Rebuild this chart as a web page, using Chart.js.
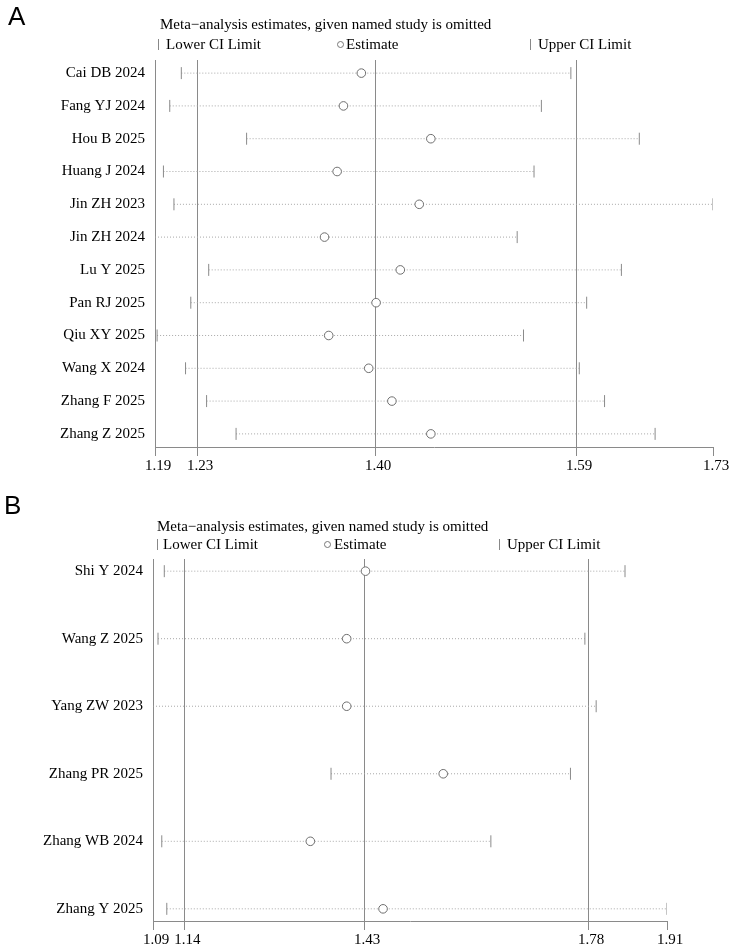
<!DOCTYPE html>
<html>
<head>
<meta charset="utf-8">
<script src="https://cdn.jsdelivr.net/npm/chart.js@4.4.1/dist/chart.umd.min.js"></script>
<style>
  body { margin:0; background:#fff; }
  #wrap { position:relative; width:730px; height:944px; overflow:hidden; }
  .box { position:absolute; left:0; width:730px; }
  .letter { position:absolute; font-family:"Liberation Sans", Arial, sans-serif; font-size:26px; line-height:1; color:#000; }
  .txt { position:absolute; font-family:"Liberation Serif", "Times New Roman", serif; font-size:15px; line-height:1; color:#000; white-space:nowrap; }
  .bar { position:absolute; width:1px; height:11px; background:#888; }
  .circ { position:absolute; width:7px; height:7px; border:1px solid #777; border-radius:50%; box-sizing:border-box; }
</style>
</head>
<body>
<div id="wrap">
  <div class="box" style="top:0;height:480px"><canvas id="chartA"></canvas></div>
  <div class="box" style="top:480px;height:464px"><canvas id="chartB"></canvas></div>

  <div class="letter" style="left:8px;top:3px">A</div>
  <div class="txt" style="left:160px;top:17px">Meta&minus;analysis estimates, given named study is omitted</div>
  <div class="bar" style="left:158px;top:39px"></div>
  <div class="txt" style="left:166px;top:37px">Lower CI Limit</div>
  <div class="circ" style="left:337px;top:41px"></div>
  <div class="txt" style="left:346px;top:37px">Estimate</div>
  <div class="bar" style="left:530px;top:39px"></div>
  <div class="txt" style="left:538px;top:37px">Upper CI Limit</div>

  <div class="letter" style="left:4px;top:492px">B</div>
  <div class="txt" style="left:157px;top:519px">Meta&minus;analysis estimates, given named study is omitted</div>
  <div class="bar" style="left:157px;top:539px"></div>
  <div class="txt" style="left:163px;top:537px">Lower CI Limit</div>
  <div class="circ" style="left:324px;top:541px"></div>
  <div class="txt" style="left:334px;top:537px">Estimate</div>
  <div class="bar" style="left:499px;top:539px"></div>
  <div class="txt" style="left:507px;top:537px">Upper CI Limit</div>
</div>

<script>
// Panel A
const studiesA = ['Cai DB 2024','Fang YJ 2024','Hou B 2025','Huang J 2024','Jin ZH 2023','Jin ZH 2024',
                  'Lu Y 2025','Pan RJ 2025','Qiu XY 2025','Wang X 2024','Zhang F 2025','Zhang Z 2025'];
const estA   = [1.386, 1.369, 1.452, 1.363, 1.441, 1.351, 1.423, 1.400, 1.355, 1.393, 1.415, 1.452];
const lowerA = [1.215, 1.204, 1.277, 1.198, 1.208, 1.190, 1.241, 1.224, 1.192, 1.219, 1.239, 1.267];
const upperA = [1.585, 1.557, 1.650, 1.550, 1.720, 1.534, 1.633, 1.600, 1.540, 1.593, 1.617, 1.665];
const ticksA = [1.19, 1.23, 1.399, 1.59, 1.72];
const tickLabelsA = ['1.19','1.23','1.40','1.59','1.73'];

// Panel B
const studiesB = ['Shi Y 2024','Wang Z 2025','Yang ZW 2023','Zhang PR 2025','Zhang WB 2024','Zhang Y 2025'];
const estB   = [1.429, 1.399, 1.399, 1.553, 1.341, 1.457];
const lowerB = [1.108, 1.098, 1.090, 1.374, 1.104, 1.112];
const upperB = [1.843, 1.779, 1.797, 1.756, 1.629, 1.910];
const ticksB = [1.09, 1.14, 1.427, 1.784, 1.91];
const tickLabelsB = ['1.09','1.14','1.43','1.78','1.91'];

const AXIS = '#8a8a8a';
const SERIF = '"Liberation Serif", "Times New Roman", serif';

function influencePlot(id, studies, est, lower, upper, ticks, tickLabels, cfg) {
  const n = studies.length;
  const rows = studies.map((s, i) => i + 1);
  const ciSets = studies.map((s, i) => ({
    data: [{ x: lower[i], y: i + 1 }, { x: upper[i], y: i + 1 }],
    showLine: true,
    borderColor: '#a8a8a8',
    borderWidth: 1,
    borderDash: [1, 2],
    pointStyle: 'line',
    rotation: 90,
    pointRadius: 6,
    pointBorderColor: '#8a8a8a',
    pointBorderWidth: 1,
    order: 2
  }));
  const estSet = {
    data: est.map((v, i) => ({ x: v, y: i + 1 })),
    pointStyle: 'circle',
    pointRadius: 4.3,
    pointBorderColor: '#6e6e6e',
    pointBackgroundColor: '#fff',
    pointBorderWidth: 1,
    order: 1
  };
  return new Chart(document.getElementById(id), {
    type: 'scatter',
    data: { datasets: ciSets.concat([estSet]) },
    options: {
      responsive: true,
      maintainAspectRatio: false,
      animation: false,
      events: [],
      layout: { padding: { top: cfg.top, right: cfg.right, bottom: cfg.bottom, left: 0 } },
      plugins: { legend: { display: false }, tooltip: { enabled: false } },
      scales: {
        x: {
          type: 'linear',
          min: ticks[0],
          max: ticks[ticks.length - 1],
          afterBuildTicks: sc => { sc.ticks = ticks.map(v => ({ value: v })); },
          afterFit: sc => { sc.height = cfg.xh; },
          ticks: {
            autoSkip: false,
            maxRotation: 0,
            padding: 1,
            labelOffset: 3,
            color: '#000',
            font: { family: SERIF, size: 15 },
            callback: (v, i) => tickLabels[i]
          },
          grid: {
            color: c => (c.index === ticks.length - 1 ? 'rgba(0,0,0,0)' : AXIS),
            tickColor: AXIS,
            tickLength: 9,
            lineWidth: 1
          },
          border: { display: true, color: AXIS, width: 1 }
        },
        y: {
          type: 'linear',
          reverse: true,
          min: 1 - cfg.margin,
          max: n + cfg.margin,
          afterBuildTicks: sc => { sc.ticks = rows.map(v => ({ value: v })); },
          afterFit: sc => { sc.width = cfg.yw; },
          ticks: {
            autoSkip: false,
            padding: 10,
            color: '#000',
            font: { family: SERIF, size: 15 },
            callback: v => studies[v - 1]
          },
          grid: { display: false, drawTicks: false },
          border: { display: true, color: AXIS, width: 1 }
        }
      }
    }
  });
}

influencePlot('chartA', studiesA, estA, lowerA, upperA, ticksA, tickLabelsA,
  { top: 60, right: 17, bottom: 3, xh: 30, yw: 155, margin: 0.4 });
influencePlot('chartB', studiesB, estB, lowerB, upperB, ticksB, tickLabelsB,
  { top: 79, right: 63, bottom: 0, xh: 23, yw: 153, margin: 0.18 });
</script>
</body>
</html>
